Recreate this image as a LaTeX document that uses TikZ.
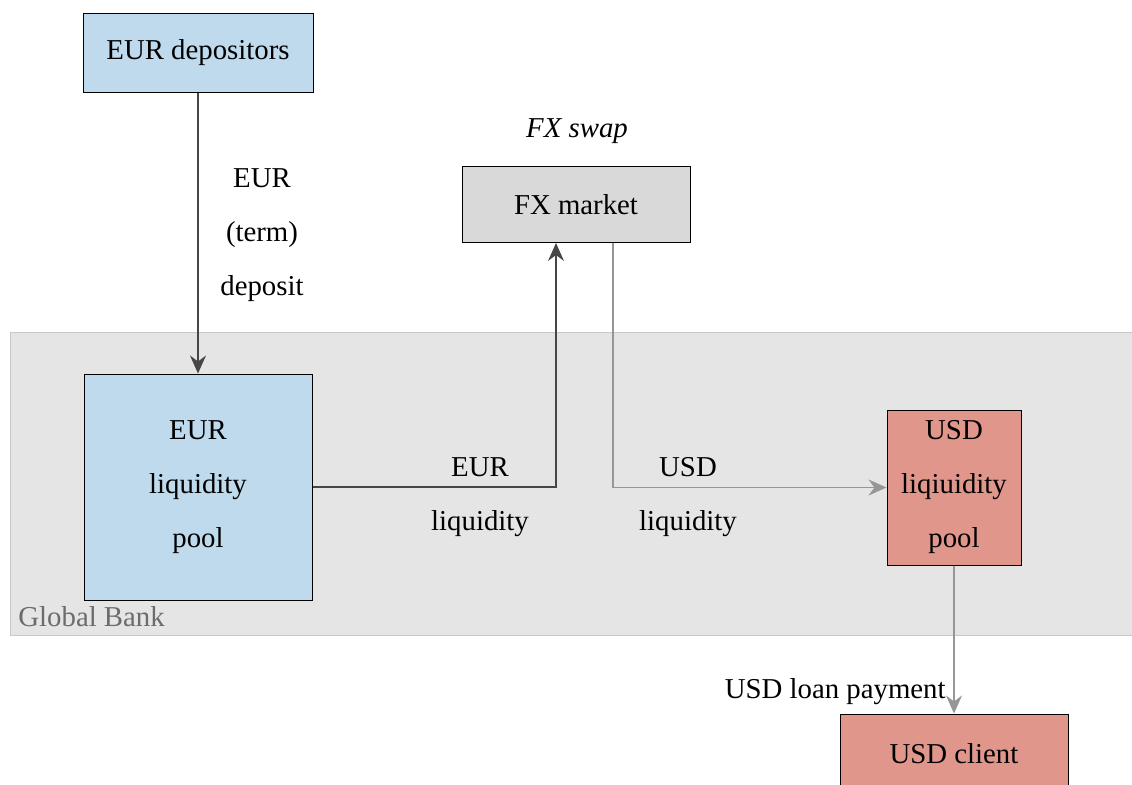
\documentclass[tikz,border=0pt]{standalone}
\usepackage{fontspec}
\setmainfont{Liberation Serif}
\usetikzlibrary{arrows.meta}
\definecolor{eurblue}{RGB}{190,218,236}
\definecolor{fxgray}{RGB}{217,217,217}
\definecolor{usdred}{RGB}{224,150,139}
\definecolor{bankbg}{RGB}{229,229,229}
\definecolor{bankline}{RGB}{200,200,200}
\definecolor{darkarrow}{RGB}{70,70,70}
\definecolor{lightarrow}{RGB}{150,150,150}
\begin{document}
\begin{tikzpicture}[x=0.5pt,y=-0.5pt,
  font=\fontsize{14.4}{27}\selectfont,
  box/.style={draw=black, line width=0.5pt, inner sep=0pt, align=center},
  darkflow/.style={draw=darkarrow, line width=0.6pt, -{Stealth[length=9pt,width=8pt,inset=3pt]}},
  lightflow/.style={draw=lightarrow, line width=0.6pt, -{Stealth[length=9pt,width=8pt,inset=3pt]}},
  lbl/.style={align=center, inner sep=0pt}
]
\useasboundingbox (0,0) rectangle (1132,784);
\path[fill=bankbg, draw=bankline, line width=0.5pt] (10,332) rectangle (1145,635);
\node[anchor=base west, text=gray!85!black, inner sep=0pt] (bank) at (18,626) {Global Bank};

\node[box, fill=eurblue, minimum width=115pt, minimum height=39.5pt] (dep) at (198,52.5) {EUR depositors};
\node[box, fill=fxgray, minimum width=114pt, minimum height=38pt] (fx) at (576,204.5) {FX market};
\node[box, fill=eurblue, minimum width=114pt, minimum height=113pt] (eurpool) at (198,487) {EUR\\liquidity\\pool};
\node[box, fill=usdred, minimum width=67pt, minimum height=77.5pt] (usdpool) at (954,487.5) {USD\\liqiuidity\\pool};
\node[box, fill=usdred, minimum width=114pt, minimum height=39.5pt] (client) at (954,753.5) {USD client};

\node[lbl, font=\fontsize{14.4}{27}\selectfont\itshape] (swap) at (577,131) {FX swap};

\draw[darkflow] (dep.south) -- (eurpool.north);
\node[lbl] (deplbl) at (262,235) {EUR\\(term)\\deposit};

\draw[darkflow] (eurpool.east) -| ([xshift=-10pt]fx.south);
\node[lbl] (eurlbl) at (480,497) {EUR\\liquidity};

\draw[lightflow] ([xshift=18.5pt]fx.south) |- (usdpool.west);
\node[lbl] (usdlbl) at (688,497) {USD\\liquidity};

\draw[lightflow] (usdpool.south) -- (client.north);
\node[lbl, anchor=east] (loanlbl) at (946,692) {USD loan payment};
\end{tikzpicture}
\end{document}
